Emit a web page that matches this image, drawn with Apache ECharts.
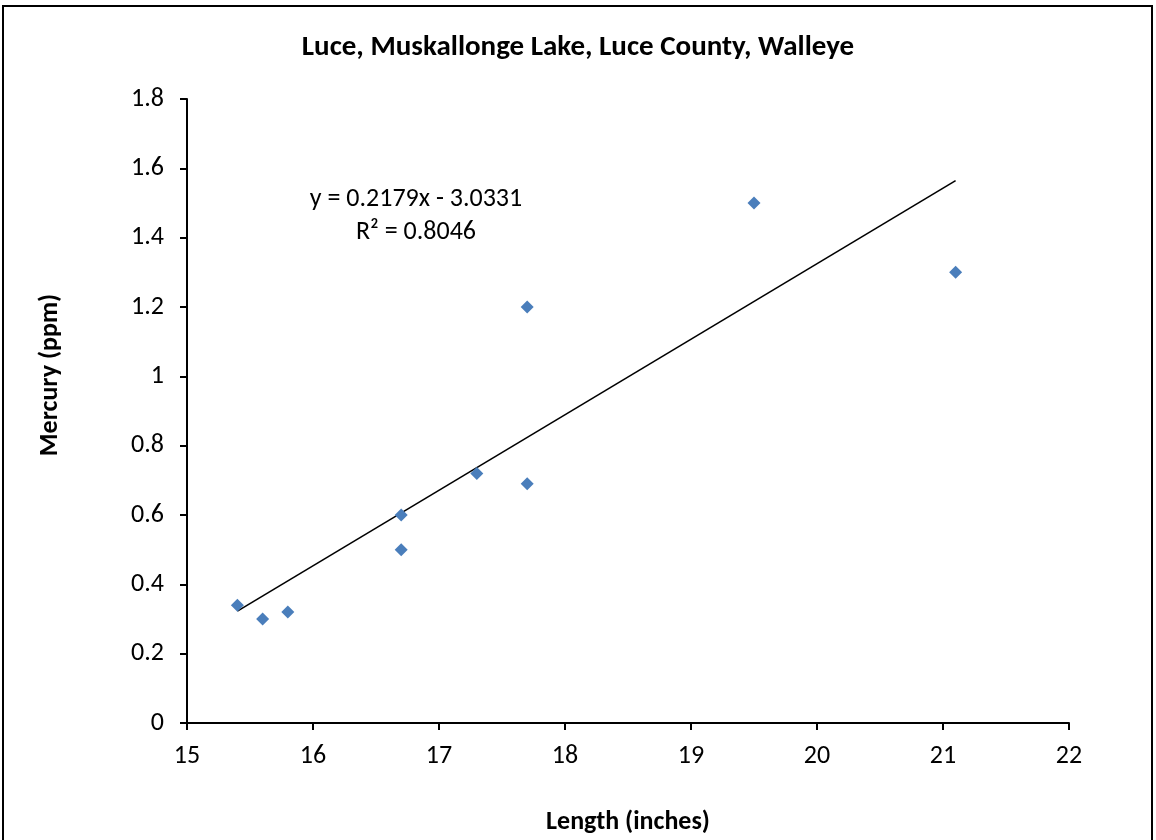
<!DOCTYPE html>
<html>
<head>
<meta charset="utf-8">
<script src="https://cdn.jsdelivr.net/npm/echarts@6/dist/echarts.min.js"></script>
<style>html,body{margin:0;padding:0;background:#fff}#c{width:1156px;height:840px}</style>
</head>
<body>
<div id="c"></div>
<script>
const lengths = [15.4, 15.6, 15.8, 16.7, 16.7, 17.3, 17.7, 17.7, 19.5, 21.1];
const mercury = [0.34, 0.30, 0.32, 0.60, 0.50, 0.72, 1.20, 0.69, 1.50, 1.30];
const slope = 0.2179;
const intercept = -3.0331;
const trendX = [15.4, 21.1];
const xTicks = [15, 16, 17, 18, 19, 20, 21, 22];
const yTicks = [0, 0.2, 0.4, 0.6, 0.8, 1, 1.2, 1.4, 1.6, 1.8];
const titleText = 'Luce, Muskallonge Lake, Luce County, Walleye';
const xName = 'Length (inches)';
const yName = 'Mercury (ppm)';
const eqLines = ['y = 0.2179x - 3.0331', 'R² = 0.8046'];

const font = "Carlito, 'Open Sans', 'Noto Sans', sans-serif";
const chart = echarts.init(document.getElementById('c'));
const pts = lengths.map((x, i) => [x, mercury[i]]);
const trend = trendX.map(x => [x, slope * x + intercept]);

chart.setOption({
  animation: false,
  backgroundColor: '#fff',
  title: {
    text: titleText, left: 'center', top: 28,
    textStyle: { fontFamily: font, fontSize: 29, fontWeight: 'bold', color: '#000' }
  },
  grid: { left: 187, right: 87, top: 99, bottom: 117 },
  xAxis: {
    type: 'value', min: 15, max: 22, interval: 1,
    name: xName, nameLocation: 'middle', nameGap: 86,
    nameTextStyle: { fontFamily: font, fontSize: 26, fontWeight: 'bold', color: '#000' },
    axisLine: { lineStyle: { color: '#000', width: 2 } },
    axisTick: { show: true, length: 7, lineStyle: { color: '#000', width: 2 } },
    axisLabel: { fontFamily: font, fontSize: 26, color: '#000', margin: 20 },
    splitLine: { show: false }
  },
  yAxis: {
    type: 'value', min: 0, max: 1.8, interval: 0.2,
    axisLine: { show: true, lineStyle: { color: '#000', width: 2 } },
    axisTick: { show: true, length: 7, lineStyle: { color: '#000', width: 2 } },
    axisLabel: { fontFamily: font, fontSize: 26, color: '#000', margin: 23,
      formatter: v => String(Math.round(v * 10) / 10) },
    splitLine: { show: false }
  },
  series: [
    {
      type: 'line', data: trend, symbol: 'none',
      lineStyle: { color: '#000', width: 1.6 }, z: 2
    },
    {
      type: 'scatter', data: pts, symbol: 'diamond', symbolSize: 13,
      itemStyle: { color: '#4a7ebb', opacity: 1 }, z: 3
    }
  ],
  graphic: [
    { type: 'rect', shape: { x: 3, y: 6, width: 1149, height: 850 },
      style: { fill: 'none', stroke: '#000', lineWidth: 2 }, silent: true },
    { type: 'text', x: 50, y: 375, rotation: Math.PI / 2,
      style: { text: yName, font: "bold 26px " + font, fill: '#000', textAlign: 'center', textVerticalAlign: 'middle' } },
    { type: 'text', x: 416, y: 199, style: { text: eqLines[0], font: "26px " + font, fill: '#000', textAlign: 'center', textVerticalAlign: 'middle' } },
    { type: 'text', x: 416, y: 232, style: { text: eqLines[1], font: "26px " + font, fill: '#000', textAlign: 'center', textVerticalAlign: 'middle' } }
  ]
});
</script>
</body>
</html>
